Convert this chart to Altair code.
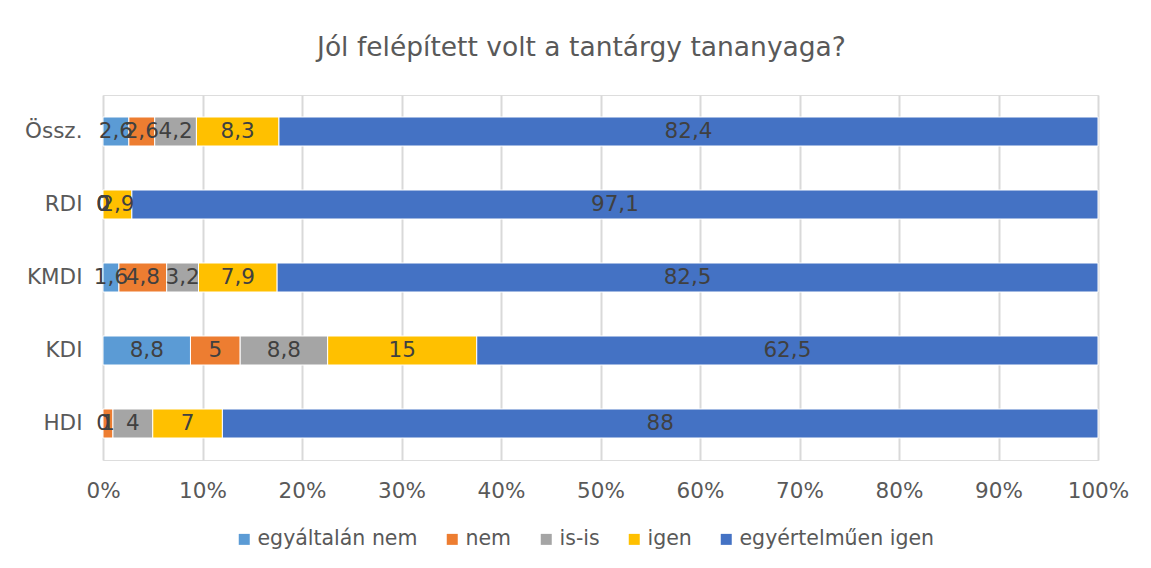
import altair as alt
import pandas as pd

categories = ["Össz.", "RDI", "KMDI", "KDI", "HDI"]
series = ["egyáltalán nem", "nem", "is-is", "igen", "egyértelműen igen"]
colors = ["#5B9BD5", "#ED7D31", "#A5A5A5", "#FFC000", "#4472C4"]

v_egyaltalan_nem = [2.6, 0, 1.6, 8.8, 0]
v_nem = [2.6, 0, 4.8, 5, 1]
v_isis = [4.2, 0, 3.2, 8.8, 4]
v_igen = [8.3, 2.9, 7.9, 15, 7]
v_egyertelmuen = [82.4, 97.1, 82.5, 62.5, 88]

cols = [v_egyaltalan_nem, v_nem, v_isis, v_igen, v_egyertelmuen]
rows = []
for si, (s, vals) in enumerate(zip(series, cols)):
    for ci, c in enumerate(categories):
        v = vals[ci]
        lab = ("%g" % v).replace(".", ",")
        rows.append({"cat": c, "series": s, "ord": si, "value": v, "label": lab})
df = pd.DataFrame(rows)

FONT = "DejaVu Sans"
FS = 21.5

base = alt.Chart(df).transform_stack(
    stack="value",
    groupby=["cat"],
    as_=["x0", "x1"],
    offset="normalize",
    sort=[alt.SortField("ord", order="ascending")],
).transform_calculate(mid="(datum.x0 + datum.x1) / 2")

y_enc = alt.Y(
    "cat:N",
    sort=categories,
    title=None,
    axis=alt.Axis(
        domain=False, ticks=False, grid=False, labelFontSize=FS, labelFont=FONT,
        labelColor="#595959", labelPadding=21,
    ),
)

bars = base.mark_bar(size=29, stroke="white", strokeWidth=1).encode(
    x=alt.X(
        "x0:Q",
        scale=alt.Scale(domain=[0, 1], nice=False, zero=True),
        title=None,
        axis=alt.Axis(
            format="%", values=[i / 10 for i in range(11)], domain=False, ticks=False,
            grid=True, gridColor="#D9D9D9", gridWidth=2, labelFontSize=FS,
            labelFont=FONT, labelColor="#595959", labelPadding=20,
            labelFlush=False, labelOverlap=False,
        ),
    ),
    x2="x1:Q",
    y=y_enc,
    color=alt.Color(
        "series:N",
        scale=alt.Scale(domain=series, range=colors),
        sort=series,
        title=None,
        legend=alt.Legend(
            orient="none", legendX=131, legendY=434, direction="horizontal",
            symbolType="square", symbolSize=121, symbolStrokeWidth=0,
            labelFontSize=20.5, labelFont=FONT, labelColor="#595959",
            columnPadding=24, labelOffset=3, labelLimit=0,
        ),
    ),
    order=alt.Order("ord:Q"),
)

labels = base.mark_text(fontSize=FS, font=FONT, color="#404040").encode(
    x=alt.X("mid:Q"),
    y=alt.Y("cat:N", sort=categories),
    text="label:N",
)

chart = (
    alt.layer(bars, labels)
    .properties(
        width=995,
        height=365,
        autosize=alt.AutoSizeParams(type="none"),
        padding={"left": 95, "top": 87, "right": 40, "bottom": 100},
        title=alt.Title(
            "Jól felépített volt a tantárgy tananyaga?",
            fontSize=26.5, font=FONT, color="#595959", fontWeight="normal",
            anchor="middle", frame="group", dx=-19, offset=34,
        ),
    )
    .configure_view(stroke=None)
    .configure(background="white")
)

chart.save("out.html", embed_options={"renderer": "svg", "actions": False})
